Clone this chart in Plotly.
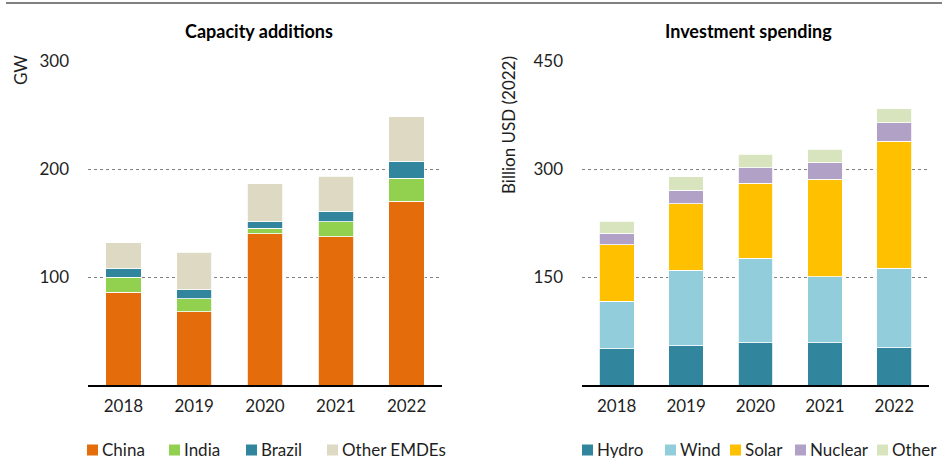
from plotly.subplots import make_subplots
import plotly.graph_objects as go

years = ["2018", "2019", "2020", "2021", "2022"]

# Capacity additions (GW)
china = [86, 68, 140, 137.5, 170]
india = [14, 12, 5, 13.5, 21.5]
brazil = [8, 8, 6, 10, 15.5]
other_emdes = [23.5, 35, 35.5, 32.5, 41.5]

# Investment spending (billion USD 2022)
hydro = [50.5, 54.5, 59, 59, 51.5]
wind = [66, 105, 117, 91.5, 111]
solar = [78, 92, 104.5, 135, 176]
nuclear = [16, 19, 21, 23, 26]
other = [17, 18.5, 19, 19, 19]

cap_ticks = [100, 200, 300]
inv_ticks = [150, 300, 450]

FONT = "Lato"
TXT = "#1f1f1f"
W, H = 942, 458

fig = make_subplots(rows=1, cols=2)

left_series = [
    ("China", china, "#E46C0A"),
    ("India", india, "#92D050"),
    ("Brazil", brazil, "#31859C"),
    ("Other EMDEs", other_emdes, "#DDD9C3"),
]
right_series = [
    ("Hydro", hydro, "#31859C"),
    ("Wind", wind, "#92CDDC"),
    ("Solar", solar, "#FFC000"),
    ("Nuclear", nuclear, "#B2A1C7"),
    ("Other", other, "#D7E4BD"),
]

for col, series in [(1, left_series), (2, right_series)]:
    for name, vals, color in series:
        fig.add_trace(
            go.Bar(
                x=years, y=vals, name=name, showlegend=False,
                marker=dict(color=color, line=dict(color="white", width=0.8)),
            ),
            row=1, col=col
        )

xcommon = dict(
    showline=True, linecolor="black", linewidth=1.5,
    ticks="", showgrid=False, ticklabelstandoff=5,
    tickmode="array", tickvals=years,
    tickfont=dict(family=FONT, size=17, color=TXT),
)
fig.update_xaxes(domain=[88 / W, 442 / W], row=1, col=1, **xcommon)
fig.update_xaxes(domain=[582 / W, 929 / W], row=1, col=2, **xcommon)

ycommon = dict(
    showline=False, zeroline=False, ticks="",
    showgrid=True, gridcolor="#808080", gridwidth=1, griddash="dot",
    ticklabelstandoff=18,
    tickfont=dict(family=FONT, size=17, color=TXT),
    domain=[1 - 385 / H, 1 - 61 / H],
)
fig.update_yaxes(range=[0, 300], tickvals=cap_ticks, row=1, col=1, **ycommon)
fig.update_yaxes(range=[0, 450], tickvals=inv_ticks, row=1, col=2, **ycommon)

fig.update_layout(
    template="none",
    width=W, height=H,
    margin=dict(l=0, r=0, t=0, b=0),
    paper_bgcolor="white", plot_bgcolor="white",
    barmode="stack", bargap=0.5,
    showlegend=False,
    font=dict(family=FONT, color=TXT),
)

# legends drawn under each panel (swatch + label)
legend_rows = [
    (left_series, [87, 169, 246, 327]),
    (right_series, [582, 665, 730, 795, 877]),
]
for series, xs in legend_rows:
    for (name, _, color), sx in zip(series, xs):
        fig.add_shape(
            type="rect", xref="paper", yref="paper",
            x0=sx / W, x1=(sx + 11) / W,
            y0=1 - 455.5 / H, y1=1 - 444.5 / H,
            fillcolor=color, line=dict(width=0),
        )
        fig.add_annotation(
            text=name, x=(sx + 14) / W, y=1 - 449.5 / H,
            xref="paper", yref="paper", xanchor="left", yanchor="middle",
            showarrow=False, borderpad=0,
            font=dict(family=FONT, size=17, color=TXT),
        )

# chart titles
for title, cx in [("Capacity additions", 258.5), ("Investment spending", 748.5)]:
    fig.add_annotation(
        text="<b>" + title + "</b>", x=cx / W, y=1 - 31 / H,
        xref="paper", yref="paper", showarrow=False,
        xanchor="center", yanchor="middle",
        font=dict(family=FONT, size=18, color="black"),
    )

# axis titles
fig.add_annotation(
    text="GW", x=20 / W, y=1 - 70 / H, textangle=-90,
    xref="paper", yref="paper", showarrow=False,
    xanchor="center", yanchor="middle",
    font=dict(family=FONT, size=17, color=TXT),
)
fig.add_annotation(
    text="Billion USD (2022)", x=508 / W, y=1 - 125 / H, textangle=-90,
    xref="paper", yref="paper", showarrow=False,
    xanchor="center", yanchor="middle",
    font=dict(family=FONT, size=17, color=TXT),
)

# thin grey rule at the top
fig.add_shape(
    type="line", xref="paper", yref="paper",
    x0=6 / W, x1=1, y0=1 - 3 / H, y1=1 - 3 / H,
    line=dict(color="#808080", width=2),
)

fig.write_html(
    "out.html",
    config={"displayModeBar": False},
    post_script="document.body.style.margin='0px';",
)
